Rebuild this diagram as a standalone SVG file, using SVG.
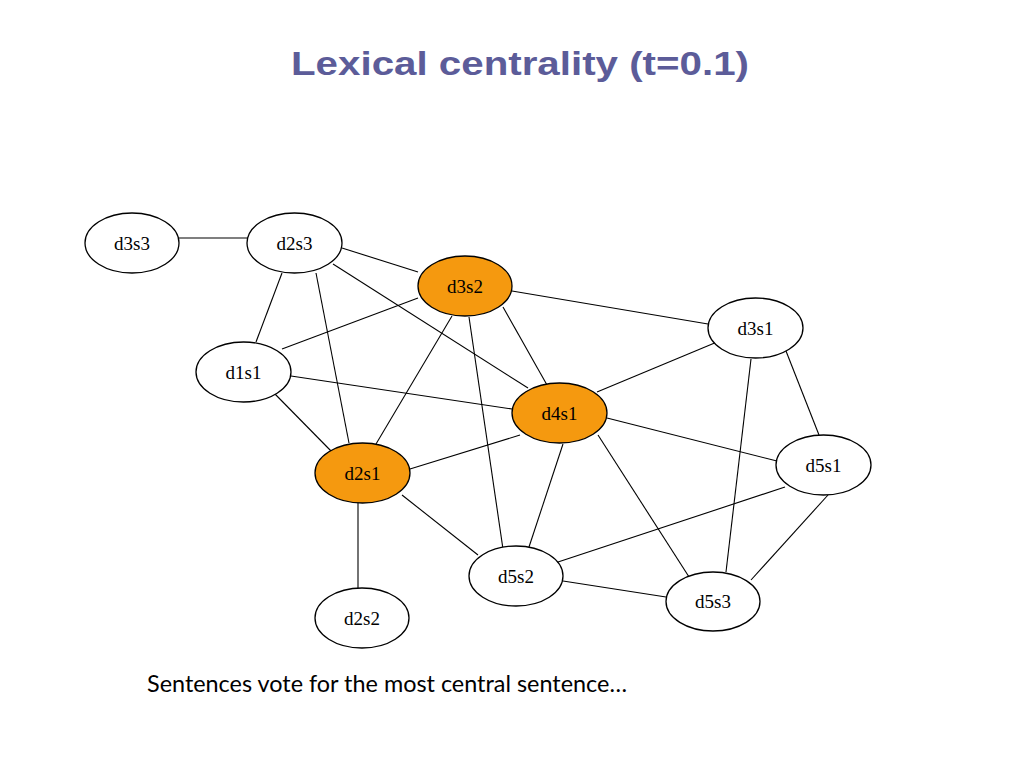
<svg xmlns="http://www.w3.org/2000/svg" width="1024" height="768" viewBox="0 0 1024 768">
<style>
.n ellipse{fill:#fff;stroke:#000;stroke-width:1.3}
.n.hot ellipse{fill:#F5990F}
.n text{font-family:"Liberation Serif","Times New Roman",serif;font-size:19px;text-anchor:middle;fill:#000}
#edges line{stroke:#000;stroke-width:1.1}
.title{font-family:"Liberation Sans",Arial,sans-serif;font-weight:bold;font-size:33px;fill:#5C5C99;text-anchor:middle}
.cap{font-family:Lato,"Open Sans",sans-serif;font-size:24px;fill:#000}
</style>
<rect width="1024" height="768" fill="#fff"/>
<text class="title" x="520" y="75" textLength="458" lengthAdjust="spacingAndGlyphs">Lexical centrality (t=0.1)</text>
<g id="edges">
<line x1="179" y1="238" x2="247" y2="238"/>
<line x1="342" y1="248" x2="418" y2="272"/>
<line x1="282" y1="273" x2="256" y2="342"/>
<line x1="316" y1="273" x2="349" y2="443"/>
<line x1="333" y1="264" x2="528" y2="388"/>
<line x1="418" y1="298" x2="282" y2="349"/>
<line x1="452" y1="316" x2="376" y2="444"/>
<line x1="503" y1="307" x2="547" y2="385"/>
<line x1="469" y1="317" x2="504" y2="556"/>
<line x1="512" y1="291" x2="708" y2="324"/>
<line x1="291" y1="376" x2="512" y2="409"/>
<line x1="274" y1="393" x2="332" y2="452"/>
<line x1="410" y1="469" x2="520" y2="435"/>
<line x1="402" y1="495" x2="478" y2="555"/>
<line x1="358" y1="503" x2="358" y2="588"/>
<line x1="597" y1="392" x2="717" y2="342"/>
<line x1="607" y1="418" x2="777" y2="461"/>
<line x1="563" y1="444" x2="529" y2="547"/>
<line x1="598" y1="435" x2="691" y2="580"/>
<line x1="786" y1="351" x2="819" y2="435"/>
<line x1="751" y1="359" x2="726" y2="572"/>
<line x1="785" y1="487" x2="555" y2="563"/>
<line x1="751" y1="580" x2="828" y2="495"/>
<line x1="563" y1="581" x2="666" y2="597"/>
</g>
<g id="d3s3" class="n"><ellipse cx="132" cy="243" rx="47" ry="30"/><text x="132" y="250">d3s3</text></g>
<g id="d2s3" class="n"><ellipse cx="294.5" cy="243" rx="47.5" ry="30"/><text x="294.5" y="250">d2s3</text></g>
<g id="d3s2" class="n hot"><ellipse cx="465" cy="286" rx="47" ry="30"/><text x="465" y="293">d3s2</text></g>
<g id="d1s1" class="n"><ellipse cx="243.5" cy="372" rx="47.5" ry="30"/><text x="243.5" y="379">d1s1</text></g>
<g id="d3s1" class="n"><ellipse cx="755.5" cy="328" rx="47.5" ry="30"/><text x="755.5" y="335">d3s1</text></g>
<g id="d4s1" class="n hot"><ellipse cx="559.5" cy="413" rx="47.5" ry="30"/><text x="559.5" y="420">d4s1</text></g>
<g id="d5s1" class="n"><ellipse cx="823.5" cy="465" rx="47.5" ry="30"/><text x="823.5" y="472">d5s1</text></g>
<g id="d2s1" class="n hot"><ellipse cx="362.5" cy="473" rx="47.5" ry="30"/><text x="362.5" y="480">d2s1</text></g>
<g id="d5s2" class="n"><ellipse cx="516" cy="576" rx="47" ry="30"/><text x="516" y="583">d5s2</text></g>
<g id="d5s3" class="n"><ellipse cx="713" cy="601.5" rx="47" ry="29.5"/><text x="713" y="608">d5s3</text></g>
<g id="d2s2" class="n"><ellipse cx="362" cy="618" rx="47" ry="30"/><text x="362" y="625">d2s2</text></g>
<text class="cap" x="147" y="692" textLength="480" lengthAdjust="spacingAndGlyphs">Sentences vote for the most central sentence…</text>
</svg>
